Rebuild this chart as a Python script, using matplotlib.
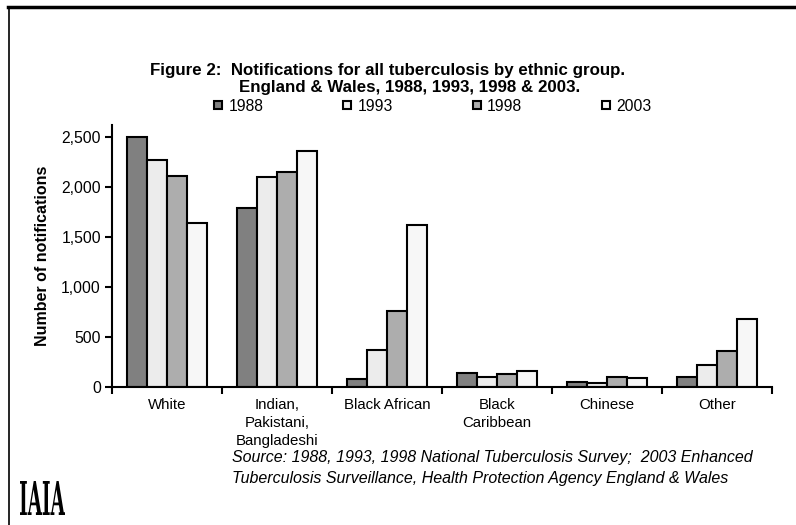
import matplotlib
matplotlib.use("Agg")
import matplotlib.pyplot as plt
import numpy as np
from matplotlib.lines import Line2D
from matplotlib.patches import Patch, PathPatch
from matplotlib.textpath import TextPath
from matplotlib.font_manager import FontProperties
from matplotlib.transforms import Affine2D

plt.rcParams['font.family'] = ['Liberation Sans', 'DejaVu Sans']

groups = ['White', 'Indian,\nPakistani,\nBangladeshi', 'Black African',
          'Black\nCaribbean', 'Chinese', 'Other']
years = ['1988', '1993', '1998', '2003']

n1988 = [2500, 1793, 80, 142, 53, 104]
n1993 = [2269, 2103, 367, 102, 37, 222]
n1998 = [2113, 2146, 757, 129, 102, 358]
n2003 = [1640, 2361, 1617, 159, 86, 676]

colors = ['#808080', '#ececec', '#adadad', '#f7f7f7']

fig = plt.figure(figsize=(7.96, 5.25), dpi=100)
ax = fig.add_axes([0.1407, 0.2629, 0.8293, 0.4991])

x = np.arange(len(groups))
w = 0.1818
offsets = [-1.5 * w, -0.5 * w, 0.5 * w, 1.5 * w]
handles = []
for vals, off, col, yr in zip([n1988, n1993, n1998, n2003], offsets, colors, years):
    ax.bar(x + off, vals, w, color=col, edgecolor='black', linewidth=1.5)
    handles.append(Patch(facecolor=col, edgecolor='black', linewidth=1.5, label=yr))

ax.set_xlim(-0.5, len(groups) - 0.5)
ax.set_ylim(0, 2620)
ax.set_yticks(range(0, 2501, 500))
ax.set_yticklabels([f'{v:,}' for v in range(0, 2501, 500)], fontsize=11.3)
ax.set_xticks(x)
ax.set_xticklabels(groups, fontsize=10.8, linespacing=1.35, va='top')
ax.set_xticks(np.arange(-0.5, len(groups)), minor=True)
ax.tick_params(axis='x', which='major', length=0, pad=8)
ax.tick_params(axis='x', which='minor', length=5, width=1.5, direction='out')
ax.tick_params(axis='y', length=5, width=1.5, direction='out', pad=3)

for s in ['top', 'right']:
    ax.spines[s].set_visible(False)
for s in ['left', 'bottom']:
    ax.spines[s].set_linewidth(1.5)

ax.set_ylabel('Number of notifications', fontsize=11.5, fontweight='bold', labelpad=8)

ax.legend(handles=handles, ncol=4, frameon=False, fontsize=11.3,
          loc='center', bbox_to_anchor=(0.486, 1.072),
          handlelength=0.5, handleheight=0.5, handletextpad=0.4,
          columnspacing=5.1, borderpad=0.1)

fig.text(0.487, 0.866, 'Figure 2:  Notifications for all tuberculosis by ethnic group.',
         ha='center', va='center', fontsize=12.2, fontweight='bold')
fig.text(0.515, 0.834, 'England & Wales, 1988, 1993, 1998 & 2003.',
         ha='center', va='center', fontsize=12.2, fontweight='bold')

fig.text(0.291, 0.129, 'Source: 1988, 1993, 1998 National Tuberculosis Survey;  2003 Enhanced',
         ha='left', va='center', fontsize=11.5, style='italic')
fig.text(0.291, 0.089, 'Tuberculosis Surveillance, Health Protection Agency England & Wales',
         ha='left', va='center', fontsize=11.5, style='italic')

# squeezed logo in the bottom-left corner (pixel coordinates)
logo = TextPath((0, 0), 'IAIA', size=30,
                prop=FontProperties(family='DejaVu Serif', weight='bold'))
ext = logo.get_extents()
sx = 45 / ext.width
sy = 34 / ext.height
tr = Affine2D().translate(-ext.x0, -ext.y0).scale(sx, sy).translate(20, 10)
fig.add_artist(PathPatch(tr.transform_path(logo), facecolor='black', edgecolor='none',
                         transform=None))

# frame lines along top and left edge
fig.add_artist(Line2D([0.0105, 1.0], [0.987, 0.987], color='black', linewidth=2.5,
                      transform=fig.transFigure))
fig.add_artist(Line2D([0.0115, 0.0115], [0.0, 0.987], color='black', linewidth=1.2,
                      transform=fig.transFigure))

fig.savefig('out.png', dpi=100)
